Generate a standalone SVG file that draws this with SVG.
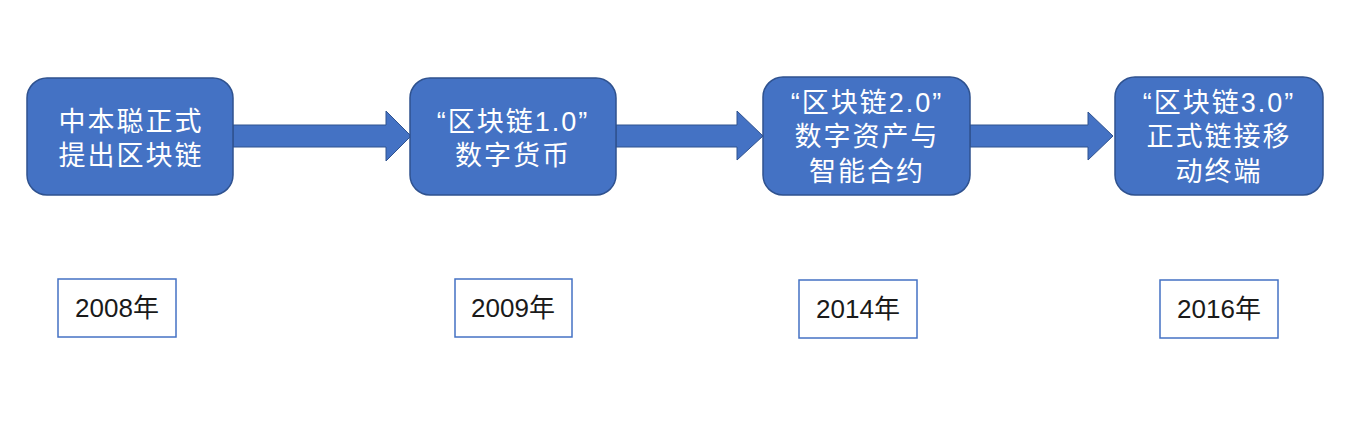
<svg xmlns="http://www.w3.org/2000/svg" width="1371" height="427" viewBox="0 0 1371 427">
<style>
.node{fill:#4472C4;stroke:#2F528F;stroke-width:1.5}
.arrow{fill:#4472C4;stroke:#2F528F;stroke-width:1}
.t{fill:#fff;font-family:"Liberation Sans","Noto Sans CJK SC",sans-serif;font-size:27px;text-anchor:middle;letter-spacing:2px}
.yb{fill:#fff;stroke:#4472C4;stroke-width:1.5}
.y{fill:#1a1a1a;font-family:"Liberation Sans","Noto Sans CJK SC",sans-serif;font-size:26px;text-anchor:middle}
</style>
<rect width="1371" height="427" fill="#fff"/>
<g id="connectors">
<path class="arrow" d="M233,125 H386 V111 L411,136 L386,161 V147 H233 Z"/>
<path class="arrow" d="M616,125 H737 V111 L763,136 L737,160 V147 H616 Z"/>
<path class="arrow" d="M970,125 H1088 V112 L1113,136 L1088,160 V147 H970 Z"/>
</g>
<g id="n1">
<rect class="node" x="27" y="78" width="206" height="117" rx="20"/>
<text class="t" x="131" y="131">中本聪正式</text>
<text class="t" x="131" y="165">提出区块链</text>
</g>
<g id="n2">
<rect class="node" x="410" y="78" width="206" height="117" rx="20"/>
<text class="t" x="513" y="131">“区块链1.0”</text>
<text class="t" x="513" y="165">数字货币</text>
</g>
<g id="n3">
<rect class="node" x="763" y="77" width="207" height="118" rx="20"/>
<text class="t" x="867" y="112">“区块链2.0”</text>
<text class="t" x="867" y="146">数字资产与</text>
<text class="t" x="867" y="181">智能合约</text>
</g>
<g id="n4">
<rect class="node" x="1115" y="77" width="208" height="118" rx="20"/>
<text class="t" x="1219" y="112">“区块链3.0”</text>
<text class="t" x="1219" y="146">正式链接移</text>
<text class="t" x="1219" y="181">动终端</text>
</g>
<g id="y1">
<rect class="yb" x="58" y="279" width="118" height="58"/>
<text class="y" x="117" y="317">2008年</text>
</g>
<g id="y2">
<rect class="yb" x="455" y="279" width="117" height="58"/>
<text class="y" x="513" y="317">2009年</text>
</g>
<g id="y3">
<rect class="yb" x="799" y="280" width="118" height="58"/>
<text class="y" x="858" y="318">2014年</text>
</g>
<g id="y4">
<rect class="yb" x="1160" y="280" width="118" height="58"/>
<text class="y" x="1219" y="318">2016年</text>
</g>
</svg>
